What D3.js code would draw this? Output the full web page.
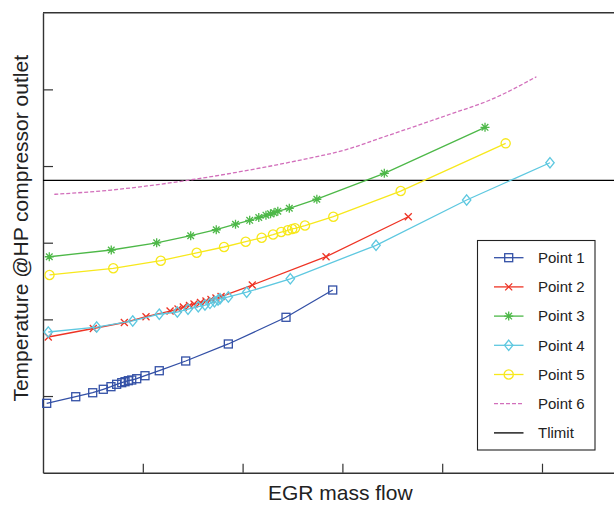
<!DOCTYPE html>
<html>
<head>
<meta charset="utf-8">
<script src="https://cdn.jsdelivr.net/npm/d3@7/dist/d3.min.js"></script>
<style>
  html, body { margin: 0; padding: 0; background: #fff; }
  svg { display: block; }
  text { font-family: "Liberation Sans", Arial, Helvetica, sans-serif; fill: #222; }
</style>
</head>
<body>
<svg id="chart" width="614" height="505"></svg>
<script>
// ---- Data (axis units, no tick labels in the original) ----
const p1x = [0.037, 0.328, 0.498, 0.604, 0.681, 0.738, 0.789, 0.822, 0.855, 0.889, 0.939, 1.022, 1.165, 1.430, 1.857, 2.435, 2.903];
const p1y = [0.905, 0.991, 1.043, 1.088, 1.122, 1.153, 1.174, 1.187, 1.200, 1.209, 1.226, 1.265, 1.330, 1.457, 1.679, 2.027, 2.383];

const p2x = [0.053, 0.504, 0.815, 1.032, 1.273, 1.353, 1.406, 1.468, 1.513, 1.578, 1.633, 1.683, 1.733, 1.784, 2.097, 2.836, 3.660];
const p2y = [1.770, 1.881, 1.959, 2.035, 2.109, 2.135, 2.161, 2.181, 2.200, 2.220, 2.240, 2.259, 2.278, 2.298, 2.448, 2.817, 3.339];

const p3x = [0.063, 0.684, 1.139, 1.480, 1.736, 1.929, 2.071, 2.162, 2.234, 2.280, 2.315, 2.353, 2.468, 2.744, 3.420, 4.429];
const p3y = [2.817, 2.905, 2.999, 3.091, 3.169, 3.241, 3.292, 3.329, 3.359, 3.377, 3.391, 3.411, 3.449, 3.567, 3.905, 4.505];

const p4x = [0.053, 0.538, 0.899, 1.165, 1.346, 1.453, 1.556, 1.623, 1.673, 1.718, 1.754, 1.774, 1.857, 2.041, 2.478, 3.337, 4.245, 5.080];
const p4y = [1.835, 1.900, 1.979, 2.067, 2.096, 2.133, 2.165, 2.187, 2.209, 2.230, 2.253, 2.269, 2.292, 2.354, 2.529, 2.966, 3.557, 4.043];

const p5x = [0.065, 0.704, 1.180, 1.540, 1.814, 2.031, 2.191, 2.305, 2.387, 2.453, 2.497, 2.525, 2.625, 2.909, 3.584, 4.636];
const p5y = [2.579, 2.666, 2.765, 2.868, 2.944, 3.013, 3.064, 3.106, 3.139, 3.162, 3.179, 3.188, 3.224, 3.339, 3.674, 4.296];

const p6x = [0.113, 0.685, 1.042, 1.473, 1.974, 2.545, 3.046, 3.405, 4.085, 4.479, 4.944];
const p6y = [3.631, 3.687, 3.740, 3.818, 3.926, 4.069, 4.218, 4.375, 4.679, 4.861, 5.165];

const tlimit = 3.814;
const xTicks = [1, 2, 3, 4, 5];
const yTicks = [1, 2, 3, 4, 5];

const seriesNames = ["Point 1", "Point 2", "Point 3", "Point 4", "Point 5", "Point 6", "Tlimit"];
const seriesColors = ["#3350a6", "#ee3324", "#4db848", "#5ec8e0", "#f7e81c", "#d26fbb", "#000000"];
const seriesMarkers = ["square", "x", "star", "diamond", "circle", "none", "none"];

// ---- Layout ----
const svg = d3.select("#chart");
const L = 43, T = 12.7, B = 472.7, R = 641.8;
const x = d3.scaleLinear().domain([0, 6]).range([L, R]);
const y = d3.scaleLinear().domain([0, 6]).range([B, T]);

const axisColor = "#333";

// frame (top line; right edge is off-canvas)
svg.append("line").attr("x1", L).attr("x2", R).attr("y1", T).attr("y2", T)
  .attr("stroke", axisColor).attr("stroke-width", 1.4);

const gx = svg.append("g").attr("transform", `translate(0,${B})`)
  .call(d3.axisBottom(x).tickValues(xTicks).tickSize(-9).tickSizeOuter(0).tickFormat(""));
const gy = svg.append("g").attr("transform", `translate(${L},0)`)
  .call(d3.axisLeft(y).tickValues(yTicks).tickSize(-10).tickSizeOuter(0).tickFormat(""));
[gx, gy].forEach(g => {
  g.select(".domain").attr("stroke", axisColor).attr("stroke-width", 1.4);
  g.selectAll(".tick line").attr("stroke", axisColor).attr("stroke-width", 1.2);
});

// ---- series ----
const series = [
  {xs: p1x, ys: p1y}, {xs: p2x, ys: p2y}, {xs: p3x, ys: p3y},
  {xs: p4x, ys: p4y}, {xs: p5x, ys: p5y}, {xs: p6x, ys: p6y}
];

const line = d3.line().x(d => x(d[0])).y(d => y(d[1]));
const smooth = d3.line().x(d => x(d[0])).y(d => y(d[1])).curve(d3.curveMonotoneX);

function drawMarker(g, type, cx, cy, color) {
  const s = g.append("g").attr("transform", `translate(${cx},${cy})`)
    .attr("fill", "none").attr("stroke", color).attr("stroke-width", 1.3);
  if (type === "square") {
    s.append("rect").attr("x", -4).attr("y", -4).attr("width", 8).attr("height", 8);
  } else if (type === "x") {
    s.append("path").attr("d", "M-3.5,-3.5L3.5,3.5M-3.5,3.5L3.5,-3.5");
  } else if (type === "star") {
    s.append("path").attr("d", "M0,-4.5L0,4.5M-4.5,0L4.5,0M-3.3,-3.3L3.3,3.3M-3.3,3.3L3.3,-3.3");
  } else if (type === "diamond") {
    s.append("path").attr("d", "M0,-5.2L4.2,0L0,5.2L-4.2,0Z");
  } else if (type === "circle") {
    s.append("circle").attr("r", 4.6);
  }
}

// Tlimit
svg.append("line").attr("x1", x(0)).attr("x2", x(6)).attr("y1", y(tlimit)).attr("y2", y(tlimit))
  .attr("stroke", seriesColors[6]).attr("stroke-width", 1.3);

// Point 6 dashed
svg.append("path").datum(d3.zip(p6x, p6y)).attr("d", smooth)
  .attr("fill", "none").attr("stroke", seriesColors[5]).attr("stroke-width", 1.3)
  .attr("stroke-dasharray", "4,2");

// marker series, drawn in order 1..5
[0, 1, 2, 3, 4].forEach(i => {
  const s = series[i];
  const pts = d3.zip(s.xs, s.ys);
  const g = svg.append("g");
  g.append("path").datum(pts).attr("d", line)
    .attr("fill", "none").attr("stroke", seriesColors[i]).attr("stroke-width", 1.3);
  pts.forEach(p => drawMarker(g, seriesMarkers[i], x(p[0]), y(p[1]), seriesColors[i]));
});

// ---- legend ----
const lg = svg.append("g");
lg.append("rect").attr("x", 477.5).attr("y", 240.5).attr("width", 117.5).attr("height", 209.5)
  .attr("fill", "#fff").attr("stroke", "#222").attr("stroke-width", 1.1);
seriesNames.forEach((name, i) => {
  const cy = 257.7 + i * 29.2;
  lg.append("line").attr("x1", 494).attr("x2", 523.5).attr("y1", cy).attr("y2", cy)
    .attr("stroke", seriesColors[i]).attr("stroke-width", 1.3)
    .attr("stroke-dasharray", i === 5 ? "4,2" : null);
  if (seriesMarkers[i] !== "none") drawMarker(lg, seriesMarkers[i], 508.7, cy, seriesColors[i]);
  lg.append("text").attr("x", 538).attr("y", cy + 5.3).attr("font-size", 15).text(name);
});

// ---- axis labels ----
svg.append("text").attr("x", 340.3).attr("y", 500).attr("text-anchor", "middle")
  .attr("font-size", 21).text("EGR mass flow");
svg.append("text").attr("transform", "translate(28.3,228.3) rotate(-90)")
  .attr("text-anchor", "middle").attr("font-size", 21).text("Temperature @HP compressor outlet");
</script>
</body>
</html>
